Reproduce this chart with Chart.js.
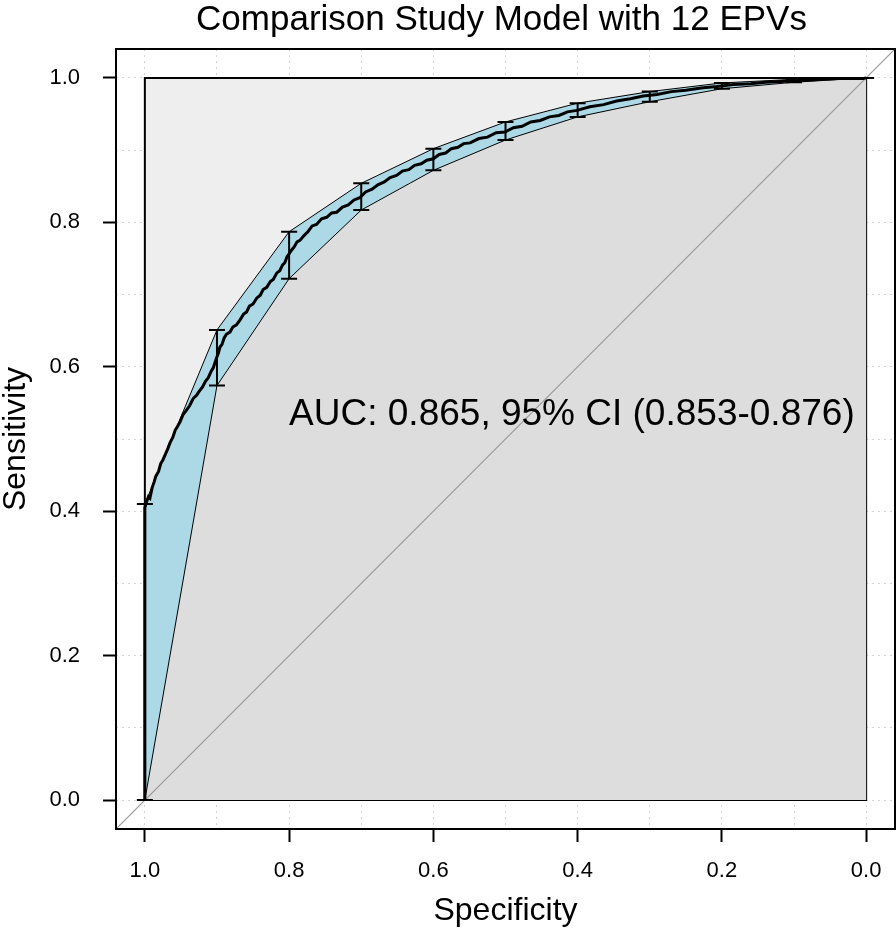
<!DOCTYPE html>
<html>
<head>
<meta charset="utf-8">
<script src="https://cdn.jsdelivr.net/npm/chart.js@4.4.1/dist/chart.umd.min.js"></script>
<style>
  html, body { margin: 0; padding: 0; background: #fff; }
  canvas { display: block; }
</style>
</head>
<body>
<canvas id="rocChart" width="896" height="933"></canvas>
<script>
// ROC curve (specificity goes 1 -> 0)
const rocSpecificity = [1.0, 1.0, 0.998, 0.995, 0.993, 0.99, 0.987, 0.985, 0.981, 0.978, 0.975, 0.971,
  0.968, 0.965, 0.961, 0.958, 0.955, 0.951, 0.947, 0.943, 0.938, 0.933, 0.928, 0.924, 0.920, 0.916,
  0.912, 0.908, 0.905, 0.901, 0.898, 0.896, 0.893, 0.890, 0.887, 0.882, 0.878, 0.873, 0.868, 0.863,
  0.859, 0.855, 0.850, 0.845, 0.840, 0.836, 0.831, 0.826, 0.822, 0.817, 0.813, 0.809, 0.806, 0.803,
  0.801, 0.797, 0.793, 0.789, 0.785, 0.779, 0.774, 0.768, 0.762, 0.755, 0.748, 0.741, 0.734, 0.726,
  0.718, 0.710, 0.702, 0.694, 0.685, 0.677, 0.668, 0.660, 0.651, 0.643, 0.634, 0.626, 0.617, 0.609,
  0.600, 0.592, 0.583, 0.575, 0.566, 0.558, 0.549, 0.537, 0.525, 0.513, 0.501, 0.489, 0.477, 0.465,
  0.452, 0.439, 0.426, 0.414, 0.401, 0.383, 0.364, 0.346, 0.327, 0.309, 0.290, 0.270, 0.250, 0.229,
  0.207, 0.184, 0.160, 0.140, 0.119, 0.100, 0.080, 0.060, 0.040, 0.020, 0.004, 0.0];
const rocSensitivity = [0.0, 0.405, 0.412, 0.420, 0.418, 0.432, 0.441, 0.448, 0.455, 0.466, 0.471, 0.480,
  0.487, 0.495, 0.503, 0.512, 0.517, 0.524, 0.534, 0.539, 0.546, 0.556, 0.561, 0.567, 0.572, 0.580,
  0.585, 0.594, 0.599, 0.611, 0.619, 0.627, 0.631, 0.640, 0.645, 0.648, 0.655, 0.658, 0.665, 0.673,
  0.676, 0.684, 0.687, 0.695, 0.699, 0.707, 0.710, 0.718, 0.721, 0.730, 0.733, 0.741, 0.744, 0.752,
  0.755, 0.761, 0.766, 0.773, 0.775, 0.782, 0.787, 0.795, 0.797, 0.805, 0.807, 0.813, 0.814, 0.821,
  0.824, 0.831, 0.834, 0.842, 0.846, 0.852, 0.856, 0.862, 0.865, 0.871, 0.873, 0.879, 0.881, 0.886,
  0.888, 0.894, 0.896, 0.902, 0.904, 0.909, 0.910, 0.916, 0.918, 0.924, 0.925, 0.931, 0.933, 0.939,
  0.941, 0.946, 0.948, 0.953, 0.955, 0.960, 0.963, 0.968, 0.971, 0.975, 0.977, 0.981, 0.983, 0.986,
  0.988, 0.991, 0.992, 0.994, 0.995, 0.996, 0.997, 0.998, 0.999, 0.999, 0.999, 1.0];

// 95% CI of sensitivity at fixed specificities
const ciSpecificity = [1.0, 0.9, 0.8, 0.7, 0.6, 0.5, 0.4, 0.3, 0.2, 0.1, 0.0];
const ciLower = [0.0, 0.574, 0.722, 0.817, 0.872, 0.914, 0.946, 0.967, 0.985, 0.994, 1.0];
const ciUpper = [0.41, 0.651, 0.787, 0.854, 0.902, 0.939, 0.965, 0.981, 0.993, 0.998, 1.0];

const gridValues = [0, 0.1, 0.2, 0.3, 0.4, 0.5, 0.6, 0.7, 0.8, 0.9, 1.0];
const tickValues = [0, 0.2, 0.4, 0.6, 0.8, 1.0];
const tickLabels = ['0.0', '0.2', '0.4', '0.6', '0.8', '1.0'];
const unitRange = [0, 1];
const axisLimits = [-0.04, 1.04];

const titleText = 'Comparison Study Model with 12 EPVs';
const aucText = 'AUC: 0.865, 95% CI (0.853-0.876)';
const aucTextAt = { x: 0.8, y: 0.52 };

const FONT = "'Liberation Sans', Arial, sans-serif";
Chart.defaults.font.family = FONT;
Chart.defaults.color = '#000';

const pt = (x, y) => ({ x, y });
const rocPoints = rocSpecificity.map((s, i) => pt(s, rocSensitivity[i]));
const [lo, hi] = unitRange;
const maxAucRect = [pt(hi, lo), pt(hi, hi), pt(lo, hi), pt(lo, lo), pt(hi, lo)];
const aucArea = rocPoints.concat([pt(lo, lo)]);
const ciShape = ciSpecificity.map((s, i) => pt(s, ciUpper[i]))
  .concat(ciSpecificity.map((s, i) => pt(s, ciLower[i])).reverse());
ciShape.push(ciShape[0]);
const diagonal = [pt(axisLimits[1], axisLimits[0]), pt(axisLimits[0], axisLimits[1])];

const tickColor = c => (c.tick && tickValues.includes(c.tick.value)) ? '#000' : 'rgba(0,0,0,0)';
const tickLabel = v => { const i = tickValues.indexOf(v); return i >= 0 ? tickLabels[i] : ''; };
const setGrid = s => { s.ticks = gridValues.map(v => ({ value: v })); };

// error bars, frame, title and AUC label
const extras = {
  id: 'extras',
  afterDatasetsDraw(chart) {
    const { ctx, scales: { x, y } } = chart;
    ctx.save();
    ctx.strokeStyle = '#000';
    ctx.lineWidth = 2;
    ciSpecificity.forEach((s, i) => {
      const px = x.getPixelForValue(s);
      const pl = y.getPixelForValue(ciLower[i]);
      const ph = y.getPixelForValue(ciUpper[i]);
      ctx.beginPath();
      ctx.moveTo(px, pl); ctx.lineTo(px, ph);
      ctx.moveTo(px - 8, pl); ctx.lineTo(px + 8, pl);
      ctx.moveTo(px - 8, ph); ctx.lineTo(px + 8, ph);
      ctx.stroke();
    });
    ctx.restore();
  },
  afterDraw(chart) {
    const { ctx, chartArea: a, scales: { x, y } } = chart;
    ctx.save();
    ctx.strokeStyle = '#000';
    ctx.lineWidth = 2;
    ctx.strokeRect(a.left, a.top, a.right - a.left, a.bottom - a.top);

    ctx.fillStyle = '#000';
    ctx.font = '37px ' + FONT;
    ctx.textAlign = 'left';
    ctx.textBaseline = 'alphabetic';
    ctx.fillText(aucText, x.getPixelForValue(aucTextAt.x), y.getPixelForValue(aucTextAt.y));

    ctx.font = '35px ' + FONT;
    ctx.textAlign = 'center';
    ctx.fillText(titleText, (a.left + a.right) / 2 - 4, 30);
    ctx.restore();
  }
};

const lineSet = (data, extra) => Object.assign({
  data, pointRadius: 0, tension: 0, fill: false, borderWidth: 0
}, extra);

new Chart(document.getElementById('rocChart'), {
  type: 'line',
  data: {
    datasets: [
      lineSet(maxAucRect, { order: 5, fill: 'shape', backgroundColor: '#EEEEEE', borderColor: '#000', borderWidth: 2 }),
      lineSet(aucArea, { order: 4, fill: 'shape', backgroundColor: '#DDDDDD', borderColor: 'rgba(0,0,0,0)' }),
      lineSet(diagonal, { order: 3, borderColor: '#999999', borderWidth: 1.2 }),
      lineSet(ciShape, { order: 2, fill: 'shape', backgroundColor: '#ADD8E6', borderColor: '#000', borderWidth: 1 }),
      lineSet(rocPoints, { order: 1, borderColor: '#000', borderWidth: 3 })
    ]
  },
  options: {
    responsive: false,
    devicePixelRatio: 1,
    animation: false,
    events: [],
    layout: { padding: { top: 49, right: 1, bottom: 0, left: 0 } },
    plugins: {
      legend: { display: false },
      tooltip: { enabled: false },
      title: { display: false }
    },
    scales: {
      x: {
        type: 'linear',
        reverse: true,
        min: axisLimits[0],
        max: axisLimits[1],
        afterBuildTicks: setGrid,
        afterFit: s => { s.height = 104; },
        grid: { color: '#D3D3D3', lineWidth: 1, tickLength: 13, tickWidth: 2, tickColor },
        border: { display: false, dash: [2, 4] },
        ticks: { autoSkip: false, maxRotation: 0, padding: 16, font: { size: 22 }, callback: tickLabel },
        title: { display: true, text: 'Specificity', font: { size: 32, lineHeight: 1.0 }, padding: { top: 0, bottom: 6 } }
      },
      y: {
        type: 'linear',
        min: axisLimits[0],
        max: axisLimits[1],
        afterBuildTicks: setGrid,
        afterFit: s => { s.width = 116; },
        grid: { color: '#D3D3D3', lineWidth: 1, tickLength: 13, tickWidth: 2, tickColor },
        border: { display: false, dash: [2, 4] },
        ticks: { autoSkip: false, padding: 23, font: { size: 22 }, callback: tickLabel },
        title: { display: true, text: 'Sensitivity', font: { size: 32, lineHeight: 1.0 }, padding: { top: 0, bottom: 0 } }
      }
    }
  },
  plugins: [extras]
});
</script>
</body>
</html>
